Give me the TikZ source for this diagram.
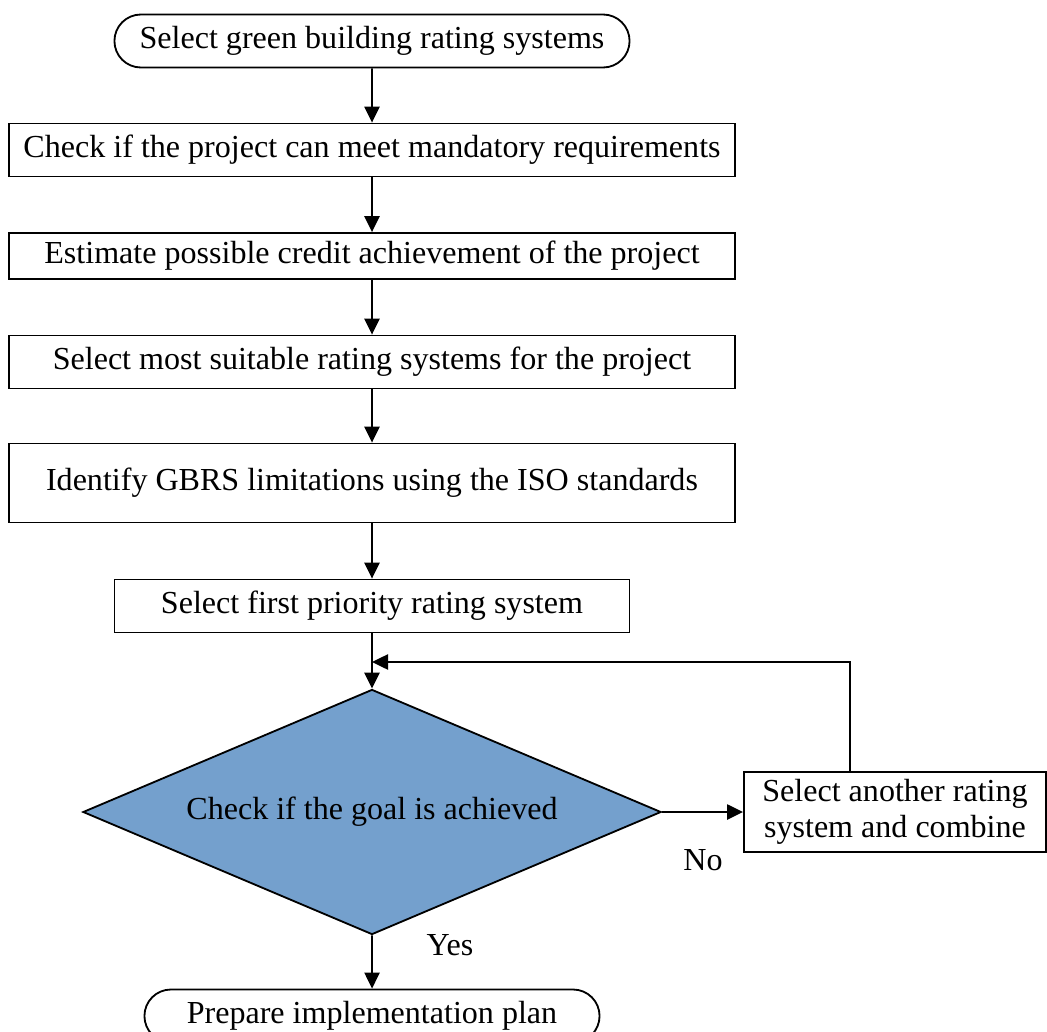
\documentclass[tikz,border=0pt]{standalone}
\usepackage{fontspec}
\setmainfont{Liberation Serif}
\usetikzlibrary{shapes.geometric,shapes.misc,arrows.meta}

\definecolor{goalblue}{RGB}{116,160,205}

\tikzset{
  arr/.style={-{Triangle[length=0.4cm,width=0.38cm]}, line width=1.3pt},
  process/.style={draw, line width=1.3pt, rectangle, inner sep=0pt, minimum height=1.325cm, font=\fontsize{22.8}{26}\selectfont},
  terminal/.style={draw, line width=1.3pt, rounded rectangle, inner sep=0pt, minimum height=1.325cm, font=\fontsize{22.8}{26}\selectfont},
  decision/.style={draw, line width=1.3pt, diamond, aspect=2.36, fill=goalblue, inner sep=0pt, minimum width=14.45cm, minimum height=6.125cm, font=\fontsize{22.8}{26}\selectfont},
  lbl/.style={font=\fontsize{22.8}{26}\selectfont}
}

\begin{document}
\begin{tikzpicture}[x=0.025cm, y=-0.025cm]
\useasboundingbox (0,0) rectangle (1047,1032);

% main column
\node [terminal, minimum width=12.875cm] (start) at (372,41) {Select green building rating systems};
\node [process, minimum width=18.125cm] (mandatory) at (372,150) {Check if the project can meet mandatory requirements};
\node [process, minimum width=18.125cm, minimum height=1.15cm] (credit) at (372,256) {Estimate possible credit achievement of the project};
\node [process, minimum width=18.125cm] (suitable) at (372,362) {Select most suitable rating systems for the project};
\node [process, minimum width=18.125cm, minimum height=1.975cm] (iso) at (372,483) {Identify GBRS limitations using the ISO standards};
\node [process, minimum width=12.875cm] (first) at (372,606) {Select first priority rating system};
\node [decision] (goal) at (372,812) {Check if the goal is achieved};
\node [terminal, minimum width=11.375cm] (plan) at (372,1016) {Prepare implementation plan};

% side branch
\node [process, minimum width=7.55cm, minimum height=2cm, align=center] (another) at (895,812) {Select another rating\\system and combine};
\coordinate (join) at (372,662);
\coordinate (loop) at (850,662);

\draw [arr] (start) -- (mandatory);
\draw [arr] (mandatory) -- (credit);
\draw [arr] (credit) -- (suitable);
\draw [arr] (suitable) -- (iso);
\draw [arr] (iso) -- (first);
\draw [arr] (first) -- (goal);
\draw [arr] (another.north -| loop) |- (join);
\draw [arr] (goal) -- (another);
\draw [arr] (goal) -- (plan);

\node [lbl] (no) at (703,860) {No};
\node [lbl] (yes) at (450,945) {Yes};

\end{tikzpicture}
\end{document}
